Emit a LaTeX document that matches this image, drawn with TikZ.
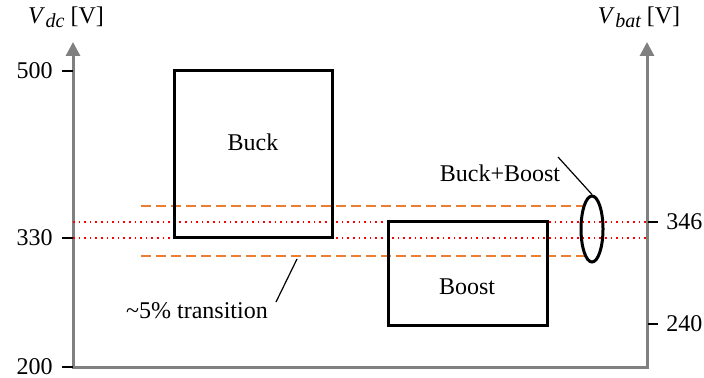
\documentclass[tikz,border=0pt]{standalone}
\usepackage{fontspec}
\setmainfont{Liberation Serif}
\usetikzlibrary{arrows.meta,shapes.geometric,positioning}
\definecolor{axisgray}{RGB}{128,128,128}
\definecolor{bandorange}{RGB}{237,125,49}
\newcommand{\qty}[2]{\textit{#1}\kern0.3pt\raisebox{-0.4ex}{\fontsize{10}{12}\selectfont\itshape #2}}
\tikzset{
  axisline/.style={draw=axisgray, line width=1.5pt, line join=miter,
    {Triangle[width=7pt,length=7pt]}-{Triangle[width=7pt,length=7pt]}},
  tickmark/.style={draw=black, line width=0.7pt},
  modebox/.style={draw=black, line width=1.5pt},
  limitline/.style={draw=red, line width=0.8pt, dotted},
  bandline/.style={draw=bandorange, line width=0.8pt, dash pattern=on 5pt off 2.5pt},
  pointer/.style={draw=black, line width=0.6pt},
  lbl/.style={font=\fontsize{12}{14}\selectfont, inner sep=1pt}
}

\begin{document}
\begin{tikzpicture}[x=0.5pt,y=-0.5pt]
  \useasboundingbox (0,0) rectangle (704,378);

  % axes
  \coordinate (o) at (73,367);
  \coordinate (ltop) at (73,42);
  \coordinate (r) at (647,367);
  \coordinate (rtop) at (647,42);
  \draw[axisline] (ltop) -- (o) -- (r) -- (rtop);

  \node[lbl] (vdc) at (66,17) {\qty{V}{dc} [V]};
  \node[lbl] (vbat) at (639,17) {\qty{V}{bat} [V]};

  % left ticks
  \node[lbl, anchor=east] (t500) at (55,71) {500};
  \node[lbl, anchor=east] (t330) at (55,238) {330};
  \node[lbl, anchor=east] (t200) at (55,367) {200};
  \draw[tickmark] (62,71) -- (73,71);
  \draw[tickmark] (62,238) -- (73,238);
  \draw[tickmark] (62,367) -- (73,367);

  % right ticks
  \node[lbl, anchor=west] (t346) at (664,222) {346};
  \node[lbl, anchor=west] (t240) at (664,324) {240};
  \draw[tickmark] (648,222) -- (658,222);
  \draw[tickmark] (648,324) -- (658,324);

  % transition band
  \draw[bandline] (141,206) -- (585,206);
  \draw[bandline] (141,256) -- (585,256);
  \draw[limitline] (73,222) -- (647,222);
  \draw[limitline] (73,238) -- (647,238);

  % operating regions
  \draw[modebox] (174,71) rectangle (332,238);
  \node[lbl] (buck) at (253,142) {Buck};
  \draw[modebox] (388,222) rectangle (547,325);
  \node[lbl] (boost) at (467,287) {Boost};

  \node[ellipse, draw, line width=1.5pt, minimum width=11pt, minimum height=33pt,
        inner sep=0pt] (both) at (592,229) {};
  \node[lbl] (bblbl) at (500,173) {Buck+Boost};
  \coordinate (bbend) at (558,157);
  \draw[pointer] (bbend) -- (both.north);

  \node[lbl] (trans) at (197,311) {\textasciitilde5\% transition};
  \coordinate (transtop) at (297,259);
  \draw[pointer] (transtop) -- (276,302);
\end{tikzpicture}
\end{document}
